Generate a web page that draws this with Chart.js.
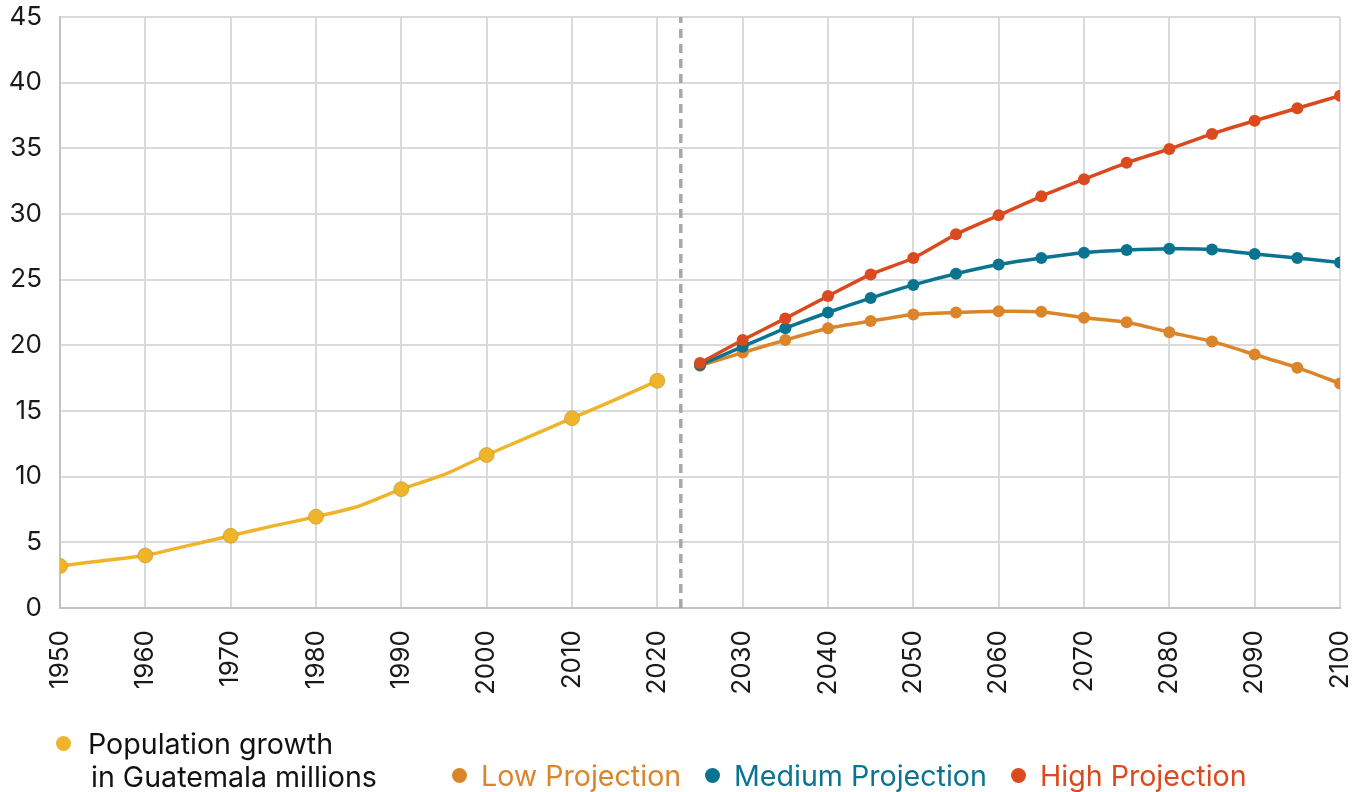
<!DOCTYPE html>
<html>
<head>
<meta charset="utf-8">
<script src="https://cdn.jsdelivr.net/npm/chart.js@4.4.1/dist/chart.umd.min.js"></script>
<style>
  html, body { margin: 0; padding: 0; background: #fff; }
  #wrap { position: relative; width: 1352px; height: 792px; font-family: Inter, "Noto Sans", sans-serif; }
  #chart { position: absolute; left: 0; top: 0; }
  .item { position: absolute; font-size: 28.6px; line-height: 33px; white-space: nowrap; }
  .dot { position: absolute; width: 15px; height: 15px; border-radius: 50%; }
</style>
</head>
<body>
<div id="wrap">
  <canvas id="chart" width="1352" height="792"></canvas>
  <div id="legend"></div>
</div>
<script>
// historical population (millions)
const histYears = [1950, 1955, 1960, 1965, 1970, 1975, 1980, 1985, 1990, 1995, 2000, 2005, 2010, 2015, 2020];
const histPop = [3.2, 3.6, 4.0, 4.75, 5.5, 6.25, 6.95, 7.75, 9.05, 10.15, 11.65, 13.05, 14.45, 15.85, 17.3];

// projections
const projYears = [2025, 2030, 2035, 2040, 2045, 2050, 2055, 2060, 2065, 2070, 2075, 2080, 2085, 2090, 2095, 2100];
const lowProj = [18.45, 19.45, 20.4, 21.3, 21.85, 22.35, 22.5, 22.6, 22.55, 22.1, 21.75, 21.0, 20.3, 19.3, 18.3, 17.1];
const medProj = [18.5, 19.9, 21.3, 22.5, 23.6, 24.6, 25.45, 26.15, 26.65, 27.05, 27.25, 27.35, 27.3, 26.95, 26.65, 26.3];
const highProj = [18.65, 20.4, 22.05, 23.75, 25.4, 26.65, 28.45, 29.9, 31.35, 32.65, 33.9, 34.95, 36.1, 37.1, 38.05, 39.0];

const xTicks = [1950, 1960, 1970, 1980, 1990, 2000, 2010, 2020, 2030, 2040, 2050, 2060, 2070, 2080, 2090, 2100];
const cutYear = 2022.75;

const colors = { hist: "#efb42a", low: "#db852b", med: "#0a7490", high: "#da4a1e" };

const pts = (xs, ys) => xs.map((x, i) => ({ x: x, y: ys[i] }));

// legend entries (drawn as html below the chart)
const legendItems = [
  { text: ["Population growth", "in Guatemala millions"], color: colors.hist, textColor: "#111", dot: 56, textLeft: 88, top: 727, indent: 3 },
  { text: ["Low Projection"], color: colors.low, textColor: colors.low, dot: 452, textLeft: 481, top: 759 },
  { text: ["Medium Projection"], color: colors.med, textColor: colors.med, dot: 705, textLeft: 734, top: 759 },
  { text: ["High Projection"], color: colors.high, textColor: colors.high, dot: 1011, textLeft: 1040, top: 759 }
];

const legend = document.getElementById("legend");
legendItems.forEach(it => {
  const dot = document.createElement("div");
  dot.className = "dot";
  dot.style.background = it.color;
  dot.style.left = it.dot + "px";
  dot.style.top = (it.top + 9) + "px";
  legend.appendChild(dot);
  const txt = document.createElement("div");
  txt.className = "item";
  txt.style.left = it.textLeft + "px";
  txt.style.top = it.top + "px";
  txt.style.color = it.textColor;
  txt.innerHTML = it.text.map((t, i) => i ? `<div style="padding-left:${it.indent || 0}px">${t}</div>` : `<div>${t}</div>`).join("");
  legend.appendChild(txt);
});

const ctx = document.getElementById("chart").getContext("2d");

new Chart(ctx, {
  type: "line",
  data: {
    datasets: [
      {
        label: "Population growth in Guatemala millions",
        data: pts(histYears, histPop),
        borderColor: colors.hist,
        backgroundColor: colors.hist,
        pointBorderColor: "#b8962e",
        pointBorderWidth: 0.6,
        borderWidth: 3.5,
        tension: 0.2,
        pointRadius: c => (c.raw && c.raw.x % 10 === 0 ? 7.5 : 0)
      },
      {
        label: "High Projection",
        data: pts(projYears, highProj),
        borderColor: colors.high,
        backgroundColor: colors.high,
        borderWidth: 3.5,
        tension: 0.2,
        pointRadius: 6,
        pointBorderWidth: 0
      },
      {
        label: "Medium Projection",
        data: pts(projYears, medProj),
        borderColor: colors.med,
        backgroundColor: colors.med,
        borderWidth: 3.5,
        tension: 0.2,
        pointRadius: 6,
        pointBorderWidth: 0
      },
      {
        label: "Low Projection",
        data: pts(projYears, lowProj),
        borderColor: colors.low,
        backgroundColor: colors.low,
        borderWidth: 3.5,
        tension: 0.2,
        pointRadius: 6,
        pointBorderWidth: 0
      },
      {
        label: "cut",
        data: [{ x: cutYear, y: 0 }, { x: cutYear, y: 45 }],
        borderColor: "#a8a8aa",
        borderWidth: 3.5,
        borderDash: [9, 6],
        pointRadius: 0
      }
    ]
  },
  options: {
    responsive: false,
    animation: false,
    layout: { padding: { top: 17, right: 12, left: 0, bottom: 0 } },
    plugins: {
      legend: { display: false },
      tooltip: { enabled: false }
    },
    scales: {
      x: {
        type: "linear",
        min: 1950,
        max: 2100,
        afterBuildTicks: s => { s.ticks = xTicks.map(v => ({ value: v })); },
        afterFit: s => { s.height = 184; s.paddingLeft = 0; s.paddingRight = 0; },
        grid: { color: "#dadada", lineWidth: 2, drawTicks: false },
        border: { color: "#c2c2c2", width: 2 },
        ticks: {
          autoSkip: false,
          minRotation: 90,
          maxRotation: 90,
          padding: 22,
          color: "#1a1a1a",
          font: { family: "Inter", size: 26 },
          callback: v => String(v)
        }
      },
      y: {
        min: 0,
        max: 45,
        afterFit: s => { s.width = 60; s.paddingTop = 0; s.paddingBottom = 0; },
        grid: { color: "#dadada", lineWidth: 2, drawTicks: false },
        border: { color: "#c2c2c2", width: 2 },
        ticks: {
          stepSize: 5,
          padding: 18,
          color: "#1a1a1a",
          font: { family: "Inter", size: 26 }
        }
      }
    }
  }
});
</script>
</body>
</html>
